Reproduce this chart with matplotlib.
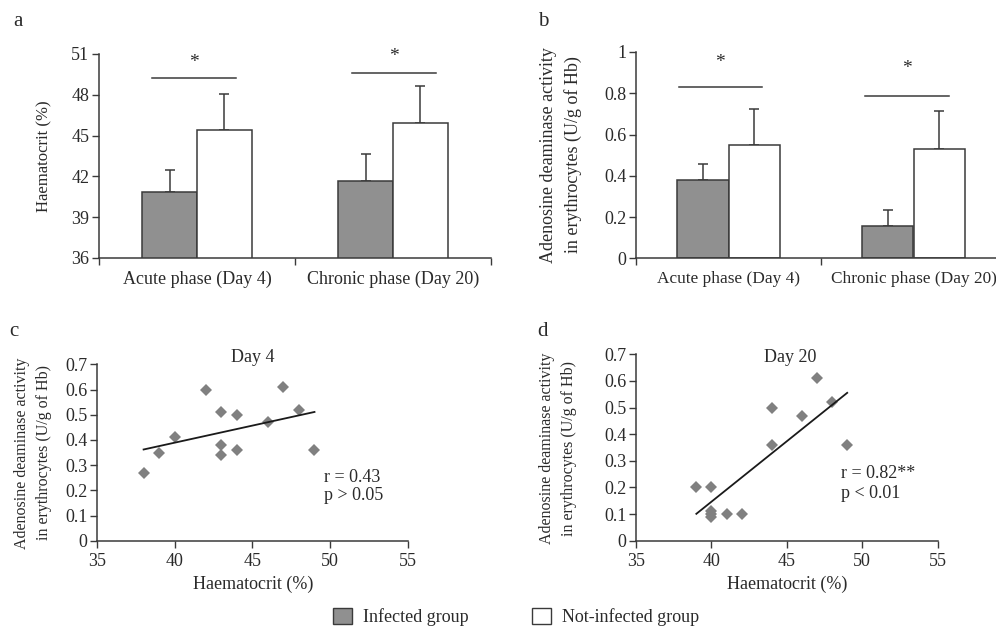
import numpy as np
import matplotlib
matplotlib.use("Agg")
import matplotlib.pyplot as plt
from matplotlib.patches import Patch

# ---- data ----
phases = ["Acute phase (Day 4)", "Chronic phase (Day 20)"]

hct_infected = [40.83, 41.68]
hct_infected_sd = [1.64, 1.97]
hct_control = [45.39, 45.95]
hct_control_sd = [2.67, 2.72]

ada_infected = [0.38, 0.155]
ada_infected_sd = [0.075, 0.077]
ada_control = [0.547, 0.530]
ada_control_sd = [0.177, 0.183]

day4_hct = [38, 39, 40, 42, 43, 43, 43, 44, 44, 46, 47, 48, 49]
day4_ada = [0.27, 0.35, 0.41, 0.60, 0.51, 0.38, 0.34, 0.50, 0.36, 0.47, 0.61, 0.52, 0.36]

day20_hct = [39, 40, 40, 40, 40, 41, 42, 44, 44, 46, 47, 48, 49]
day20_ada = [0.20, 0.20, 0.11, 0.10, 0.09, 0.10, 0.10, 0.50, 0.36, 0.47, 0.61, 0.52, 0.36]

# significance bars: (left, right, height) per phase
hct_sig = [(0.27, 0.70, 49.24), (1.29, 1.72, 49.58)]
ada_sig = [(0.23, 0.68, 0.832), (1.24, 1.69, 0.785)]
hct_star = [50.4, 50.8]
ada_star = [0.95, 0.922]

# ---- style ----
W, H = 996, 627
TXT = "#2a2a2a"
EDGE = "#3a3a3a"
GRAY = "#909090"
DIAMOND = "#808080"
plt.rcParams["font.family"] = ["Liberation Serif", "DejaVu Serif"]
plt.rcParams["text.color"] = TXT
plt.rcParams["axes.edgecolor"] = EDGE
plt.rcParams["xtick.color"] = EDGE
plt.rcParams["ytick.color"] = EDGE
plt.rcParams["xtick.labelcolor"] = TXT
plt.rcParams["ytick.labelcolor"] = TXT

fig = plt.figure(figsize=(W / 100, H / 100), dpi=100)


def box(left, top, right, bottom):
    return [left / W, 1 - bottom / H, (right - left) / W, (bottom - top) / H]


def ftext(x, y, s, **kw):
    fig.text(x / W, 1 - y / H, s, **kw)


def style_axes(ax, fs=13):
    for side in ("top", "right"):
        ax.spines[side].set_visible(False)
    for side in ("left", "bottom"):
        ax.spines[side].set_linewidth(1.1)
    ax.tick_params(axis="both", which="both", direction="out", width=1.0,
                   length=5, labelsize=fs, pad=2)


def bar_panel(ax, infected, infected_sd, control, control_sd, sig, stars, ylim, yticks, yfmt,
              xlabel_size=13):
    x = np.arange(len(phases)) + 0.5
    w = 0.28
    ax.bar(x - w / 2, infected, w, color=GRAY, edgecolor=EDGE, linewidth=1.1, zorder=2)
    ax.bar(x + w / 2, control, w, color="white", edgecolor=EDGE, linewidth=1.1, zorder=2)
    ax.errorbar(x - w / 2, infected, yerr=[np.zeros(len(x)), infected_sd], fmt="none",
                ecolor=EDGE, elinewidth=1.1, capsize=3.6, capthick=1.1, zorder=1)
    ax.errorbar(x + w / 2, control, yerr=[np.zeros(len(x)), control_sd], fmt="none",
                ecolor=EDGE, elinewidth=1.1, capsize=3.6, capthick=1.1, zorder=1)
    for (l, r, h), sy in zip(sig, stars):
        ax.plot([l, r], [h, h], color=EDGE, lw=1.1, clip_on=False)
        ax.text((l + r) / 2, sy, "*", ha="center", va="center", fontsize=14, color=TXT)
    ax.set_xlim(0, 2)
    ax.set_ylim(*ylim)
    ax.set_yticks(yticks)
    ax.set_yticklabels([yfmt(v) for v in yticks])
    ax.set_xticks([0, 1, 2], minor=True)
    ax.set_xticks(x)
    ax.set_xticklabels(phases)
    style_axes(ax)
    ax.tick_params(axis="x", which="major", length=0, pad=9, labelsize=xlabel_size)
    ax.tick_params(axis="x", which="minor", length=5)


def scatter_panel(ax, xs, ys):
    ax.plot(xs, ys, linestyle="none", marker="D", markersize=6.2,
            color=DIAMOND, markeredgewidth=0, zorder=2)
    k, b = np.polyfit(xs, ys, 1)
    xl = np.array([min(xs), max(xs)])
    ax.plot(xl, k * xl + b, color="#1a1a1a", lw=1.3, zorder=3)
    ax.set_xlim(35, 55)
    ax.set_ylim(0, 0.7)
    yt = np.round(np.arange(0, 0.71, 0.1), 1)
    ax.set_xticks(np.arange(35, 56, 5))
    ax.set_yticks(yt)
    ax.set_yticklabels(["0" if v == 0 else f"{v:.1f}" for v in yt])
    style_axes(ax)
    ax.tick_params(axis="x", pad=4)


# ---- panel a ----
ax_a = fig.add_axes(box(99, 54, 491, 258))
bar_panel(ax_a, hct_infected, hct_infected_sd, hct_control, hct_control_sd,
          hct_sig, hct_star, (36, 51), np.arange(36, 52, 3), lambda v: f"{v:d}")
ftext(44, 156, "Haematocrit (%)", rotation=90, ha="center", va="center", fontsize=12)
ftext(18, 22, "a", ha="center", va="center", fontsize=15)

# ---- panel b ----
ax_b = fig.add_axes(box(636, 52, 1006, 258.3))
bar_panel(ax_b, ada_infected, ada_infected_sd, ada_control, ada_control_sd,
          ada_sig, ada_star, (0, 1), np.round(np.arange(0, 1.01, 0.2), 1),
          lambda v: "0" if v == 0 else ("1" if v == 1 else f"{v:.1f}"),
          xlabel_size=12.4)
ftext(561, 155, "Adenosine deaminase activity\nin erythrocytes (U/g of Hb)",
      rotation=90, ha="center", va="center", fontsize=13, linespacing=1.45)
ftext(543, 22, "b", ha="center", va="center", fontsize=15)

# ---- panel c ----
ax_c = fig.add_axes(box(97, 364.3, 407.7, 540.7))
scatter_panel(ax_c, day4_hct, day4_ada)
ftext(253, 357, "Day 4", ha="center", va="center", fontsize=13)
ftext(324, 477, "r = 0.43", ha="left", va="center", fontsize=13)
ftext(324, 496, "p > 0.05", ha="left", va="center", fontsize=13)
ftext(253, 584, "Haematocrit (%)", ha="center", va="center", fontsize=13)
ftext(33, 453, "Adenosine deaminase activity\nin erythrocytes (U/g of Hb)",
      rotation=90, ha="center", va="center", fontsize=11.5, linespacing=1.45)
ftext(14, 331, "c", ha="center", va="center", fontsize=15)

# ---- panel d ----
ax_d = fig.add_axes(box(636, 354.3, 937.7, 540.7))
scatter_panel(ax_d, day20_hct, day20_ada)
ftext(790, 357, "Day 20", ha="center", va="center", fontsize=13)
ftext(841, 474, "r = 0.82**", ha="left", va="center", fontsize=13)
ftext(841, 494, "p < 0.01", ha="left", va="center", fontsize=13)
ftext(787, 584, "Haematocrit (%)", ha="center", va="center", fontsize=13)
ftext(558, 448, "Adenosine deaminase activity\nin erythrocytes (U/g of Hb)",
      rotation=90, ha="center", va="center", fontsize=11.5, linespacing=1.45)
ftext(542, 331, "d", ha="center", va="center", fontsize=15)

# ---- legend ----
handles = [Patch(facecolor=GRAY, edgecolor=EDGE, linewidth=1.0, label="Infected group"),
           Patch(facecolor="white", edgecolor=EDGE, linewidth=1.0, label="Not-infected group")]
fig.legend(handles=handles, loc="center", bbox_to_anchor=(516 / W, 1 - 617 / H),
           ncol=2, frameon=False, fontsize=13, handlelength=1.05, handleheight=1.05,
           handletextpad=0.6, columnspacing=3.5, borderpad=0)

fig.savefig("out.png", dpi=100)
